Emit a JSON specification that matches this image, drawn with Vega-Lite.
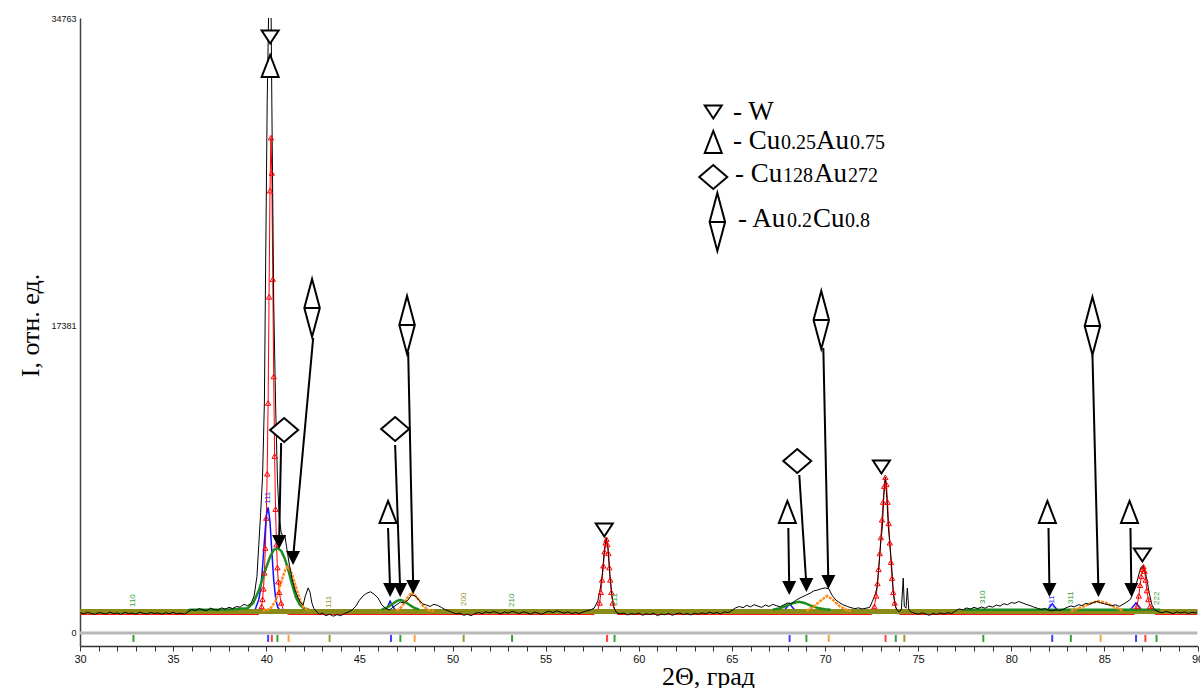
{
  "$schema": "https://vega.github.io/schema/vega-lite/v6.json",
  "width": 1117.5,
  "height": 628,
  "autosize": {"type": "none"},
  "padding": {"left": 80, "top": 18, "right": 2.5, "bottom": 42},
  "background": "white",
  "config": {"view": {"stroke": null}, "font": "Liberation Sans"},
  "datasets": {
    "obs": [
      {"x":30.0,"y":1150},{"x":30.2,"y":1080},{"x":30.4,"y":1170},{"x":30.6,"y":1110},{"x":30.8,"y":1050},{"x":31.0,"y":1160},{"x":31.2,"y":1120},{"x":31.4,"y":1060},{"x":31.6,"y":1180},{"x":31.8,"y":1090},
      {"x":32.0,"y":1140},{"x":32.2,"y":1050},{"x":32.4,"y":1170},{"x":32.6,"y":1100},{"x":32.8,"y":1130},{"x":33.0,"y":1060},{"x":33.2,"y":1180},{"x":33.4,"y":1110},{"x":33.6,"y":1070},{"x":33.8,"y":1160},
      {"x":34.0,"y":1100},{"x":34.2,"y":1140},{"x":34.4,"y":1060},{"x":34.6,"y":1150},{"x":34.8,"y":1090},{"x":35.0,"y":1170},{"x":35.2,"y":1080},{"x":35.4,"y":1120},{"x":35.6,"y":1060},{"x":35.8,"y":1200},
      {"x":36.0,"y":1330},{"x":36.2,"y":1270},{"x":36.4,"y":1380},{"x":36.6,"y":1310},{"x":36.8,"y":1260},{"x":37.0,"y":1400},{"x":37.2,"y":1330},{"x":37.4,"y":1290},{"x":37.6,"y":1420},{"x":37.8,"y":1350},
      {"x":38.0,"y":1450},{"x":38.2,"y":1380},{"x":38.4,"y":1500},{"x":38.6,"y":1460},{"x":38.8,"y":1620},{"x":39.0,"y":1540},{"x":39.2,"y":1700},{"x":39.35,"y":2100},{"x":39.5,"y":3200},{"x":39.6,"y":5000},
      {"x":39.7,"y":6800},{"x":39.8,"y":8800},{"x":39.9,"y":13000},{"x":39.95,"y":18800},{"x":40.05,"y":30000},{"x":40.15,"y":36500},{"x":40.25,"y":36500},{"x":40.3,"y":30000},{"x":40.4,"y":18800},{"x":40.5,"y":13000},
      {"x":40.6,"y":8700},{"x":40.7,"y":6500},{"x":40.8,"y":5700},{"x":40.9,"y":5450},{"x":41.0,"y":5500},{"x":41.1,"y":4800},{"x":41.25,"y":3800},{"x":41.4,"y":3000},{"x":41.55,"y":2430},{"x":41.7,"y":2000},
      {"x":41.85,"y":1700},{"x":41.98,"y":1580},{"x":42.1,"y":2100},{"x":42.25,"y":2550},{"x":42.35,"y":2300},{"x":42.45,"y":1700},{"x":42.55,"y":1400},{"x":42.7,"y":1200},{"x":42.85,"y":1050},{"x":43.0,"y":1120},
      {"x":43.2,"y":980},{"x":43.4,"y":1060},{"x":43.6,"y":950},{"x":43.8,"y":1040},{"x":44.0,"y":980},{"x":44.2,"y":1100},{"x":44.4,"y":1180},{"x":44.6,"y":1300},{"x":44.8,"y":1500},{"x":45.0,"y":1850},
      {"x":45.2,"y":2100},{"x":45.4,"y":2250},{"x":45.6,"y":2330},{"x":45.8,"y":2180},{"x":46.0,"y":1980},{"x":46.2,"y":1600},{"x":46.4,"y":1400},{"x":46.6,"y":1300},{"x":46.8,"y":1450},{"x":47.0,"y":1600},
      {"x":47.2,"y":1750},{"x":47.4,"y":1700},{"x":47.6,"y":1850},{"x":47.8,"y":2150},{"x":48.0,"y":2100},{"x":48.2,"y":1850},{"x":48.4,"y":1650},{"x":48.6,"y":1580},{"x":48.8,"y":1500},{"x":49.0,"y":1620},
      {"x":49.2,"y":1560},{"x":49.4,"y":1450},{"x":49.6,"y":1320},{"x":49.8,"y":1250},{"x":50.0,"y":1150},{"x":50.2,"y":1080},{"x":50.4,"y":1120},{"x":50.6,"y":1000},{"x":50.8,"y":1060},{"x":51.0,"y":980},
      {"x":51.2,"y":1100},{"x":51.4,"y":1160},{"x":51.6,"y":1090},{"x":51.8,"y":1200},{"x":52.0,"y":1130},{"x":52.2,"y":1210},{"x":52.4,"y":1150},{"x":52.6,"y":1080},{"x":52.8,"y":1190},{"x":53.0,"y":1120},
      {"x":53.2,"y":1230},{"x":53.4,"y":1160},{"x":53.6,"y":1100},{"x":53.8,"y":1200},{"x":54.0,"y":1140},{"x":54.2,"y":1060},{"x":54.4,"y":1180},{"x":54.6,"y":1120},{"x":54.8,"y":1050},{"x":55.0,"y":1170},
      {"x":55.2,"y":1230},{"x":55.4,"y":1150},{"x":55.6,"y":1260},{"x":55.8,"y":1180},{"x":56.0,"y":1120},{"x":56.2,"y":1200},{"x":56.4,"y":1090},{"x":56.6,"y":1160},{"x":56.8,"y":1100},{"x":57.0,"y":1180},
      {"x":57.2,"y":1250},{"x":57.4,"y":1300},{"x":57.6,"y":1400},{"x":57.8,"y":1800},{"x":57.95,"y":2600},{"x":58.05,"y":3400},{"x":58.15,"y":4600},{"x":58.25,"y":5400},{"x":58.35,"y":4800},{"x":58.45,"y":3300},
      {"x":58.55,"y":2200},{"x":58.65,"y":1500},{"x":58.8,"y":1150},{"x":59.0,"y":1080},{"x":59.2,"y":1120},{"x":59.4,"y":1020},{"x":59.6,"y":1100},{"x":59.8,"y":1050},{"x":60.0,"y":1130},{"x":60.2,"y":1000},
      {"x":60.4,"y":1090},{"x":60.6,"y":1040},{"x":60.8,"y":1120},{"x":61.0,"y":980},{"x":61.2,"y":1070},{"x":61.4,"y":1030},{"x":61.6,"y":1110},{"x":61.8,"y":1000},{"x":62.0,"y":1080},{"x":62.2,"y":1130},
      {"x":62.4,"y":1040},{"x":62.6,"y":1100},{"x":62.8,"y":1020},{"x":63.0,"y":1120},{"x":63.2,"y":1060},{"x":63.4,"y":1140},{"x":63.6,"y":1070},{"x":63.8,"y":1180},{"x":64.0,"y":1100},{"x":64.2,"y":1160},
      {"x":64.4,"y":1080},{"x":64.6,"y":1200},{"x":64.8,"y":1150},{"x":65.0,"y":1270},{"x":65.2,"y":1420},{"x":65.4,"y":1500},{"x":65.6,"y":1430},{"x":65.8,"y":1560},{"x":66.0,"y":1480},{"x":66.2,"y":1600},
      {"x":66.4,"y":1520},{"x":66.6,"y":1450},{"x":66.8,"y":1580},{"x":67.0,"y":1500},{"x":67.2,"y":1620},{"x":67.4,"y":1540},{"x":67.6,"y":1480},{"x":67.8,"y":1600},{"x":68.0,"y":1700},{"x":68.2,"y":1650},
      {"x":68.4,"y":1820},{"x":68.6,"y":1950},{"x":68.8,"y":2050},{"x":69.0,"y":2150},{"x":69.2,"y":2250},{"x":69.4,"y":2380},{"x":69.6,"y":2430},{"x":69.8,"y":2500},{"x":70.0,"y":2550},{"x":70.2,"y":2500},
      {"x":70.4,"y":2100},{"x":70.6,"y":1850},{"x":70.8,"y":1700},{"x":71.0,"y":1580},{"x":71.2,"y":1500},{"x":71.4,"y":1430},{"x":71.6,"y":1380},{"x":71.8,"y":1420},{"x":72.0,"y":1360},{"x":72.2,"y":1400},
      {"x":72.4,"y":1450},{"x":72.55,"y":1800},{"x":72.7,"y":2200},{"x":72.8,"y":2600},{"x":72.92,"y":4100},{"x":73.0,"y":5200},{"x":73.08,"y":6000},{"x":73.16,"y":7800},{"x":73.24,"y":8800},{"x":73.32,"y":7600},
      {"x":73.4,"y":6000},{"x":73.5,"y":4800},{"x":73.56,"y":4100},{"x":73.67,"y":2300},{"x":73.78,"y":1500},{"x":73.9,"y":1250},{"x":74.0,"y":1200},{"x":74.1,"y":1350},{"x":74.2,"y":3100},{"x":74.26,"y":1500},
      {"x":74.35,"y":1400},{"x":74.42,"y":2540},{"x":74.5,"y":1300},{"x":74.6,"y":1200},{"x":74.8,"y":1120},{"x":75.0,"y":1060},{"x":75.2,"y":1140},{"x":75.4,"y":1080},{"x":75.6,"y":1000},{"x":75.8,"y":1100},
      {"x":76.0,"y":1050},{"x":76.2,"y":1130},{"x":76.4,"y":1070},{"x":76.6,"y":1150},{"x":76.8,"y":1100},{"x":77.0,"y":1250},{"x":77.2,"y":1360},{"x":77.4,"y":1300},{"x":77.6,"y":1420},{"x":77.8,"y":1350},
      {"x":78.0,"y":1450},{"x":78.2,"y":1380},{"x":78.4,"y":1470},{"x":78.6,"y":1400},{"x":78.8,"y":1520},{"x":79.0,"y":1460},{"x":79.2,"y":1580},{"x":79.4,"y":1520},{"x":79.6,"y":1650},{"x":79.8,"y":1600},
      {"x":80.0,"y":1720},{"x":80.2,"y":1680},{"x":80.4,"y":1780},{"x":80.6,"y":1700},{"x":80.8,"y":1620},{"x":81.0,"y":1550},{"x":81.2,"y":1470},{"x":81.4,"y":1400},{"x":81.6,"y":1330},{"x":81.8,"y":1380},
      {"x":82.0,"y":1300},{"x":82.2,"y":1250},{"x":82.4,"y":1320},{"x":82.6,"y":1270},{"x":82.8,"y":1350},{"x":83.0,"y":1450},{"x":83.2,"y":1530},{"x":83.4,"y":1480},{"x":83.6,"y":1600},{"x":83.8,"y":1550},
      {"x":84.0,"y":1680},{"x":84.2,"y":1620},{"x":84.4,"y":1720},{"x":84.6,"y":1780},{"x":84.8,"y":1700},{"x":85.0,"y":1650},{"x":85.2,"y":1600},{"x":85.4,"y":1540},{"x":85.6,"y":1600},{"x":85.8,"y":1500},
      {"x":86.0,"y":1620},{"x":86.2,"y":1750},{"x":86.4,"y":1900},{"x":86.6,"y":2400},{"x":86.8,"y":3100},{"x":86.95,"y":3700},{"x":87.1,"y":3800},{"x":87.25,"y":3200},{"x":87.4,"y":2300},{"x":87.55,"y":1600},
      {"x":87.7,"y":1300},{"x":87.9,"y":1200},{"x":88.1,"y":1140},{"x":88.3,"y":1220},{"x":88.5,"y":1160},{"x":88.7,"y":1100},{"x":88.9,"y":1200},{"x":89.1,"y":1130},{"x":89.3,"y":1190},{"x":89.5,"y":1100},
      {"x":89.7,"y":1170},{"x":89.9,"y":1130},{"x":90.0,"y":1180}
    ],
    "wcalc": [
      {"x":30,"y":1050},{"x":39.6,"y":1050},{"x":39.7,"y":1250},{"x":39.75,"y":1500},{"x":39.8,"y":1900},{"x":39.85,"y":2500},{"x":39.9,"y":3400},{"x":39.95,"y":4800},{"x":40.0,"y":6500},{"x":40.05,"y":9000},
      {"x":40.1,"y":13000},{"x":40.15,"y":19000},{"x":40.2,"y":25000},{"x":40.25,"y":28000},{"x":40.3,"y":26000},{"x":40.35,"y":20000},{"x":40.4,"y":14500},{"x":40.45,"y":10000},{"x":40.5,"y":7000},{"x":40.55,"y":5000},
      {"x":40.6,"y":3700},{"x":40.65,"y":2900},{"x":40.7,"y":2300},{"x":40.8,"y":1700},{"x":40.9,"y":1350},{"x":41.0,"y":1150},{"x":41.2,"y":1050},{"x":57.6,"y":1050},{"x":57.8,"y":1300},{"x":57.9,"y":1700},
      {"x":57.97,"y":2300},{"x":58.03,"y":3000},{"x":58.1,"y":3800},{"x":58.16,"y":4600},{"x":58.22,"y":5100},{"x":58.27,"y":5300},{"x":58.32,"y":5000},{"x":58.37,"y":4500},{"x":58.42,"y":3700},{"x":58.47,"y":3000},
      {"x":58.53,"y":2300},{"x":58.6,"y":1700},{"x":58.7,"y":1300},{"x":58.85,"y":1050},{"x":72.5,"y":1050},{"x":72.65,"y":1500},{"x":72.75,"y":2100},{"x":72.82,"y":2800},{"x":72.88,"y":3600},{"x":72.94,"y":4500},
      {"x":73.0,"y":5400},{"x":73.06,"y":6400},{"x":73.12,"y":7400},{"x":73.18,"y":8300},{"x":73.24,"y":8800},{"x":73.3,"y":8400},{"x":73.36,"y":7400},{"x":73.42,"y":6200},{"x":73.48,"y":5100},{"x":73.54,"y":4000},
      {"x":73.6,"y":3100},{"x":73.66,"y":2300},{"x":73.74,"y":1700},{"x":73.85,"y":1250},{"x":74.0,"y":1050},{"x":86.6,"y":1050},{"x":86.75,"y":1500},{"x":86.85,"y":2100},{"x":86.92,"y":2700},{"x":86.98,"y":3200},
      {"x":87.04,"y":3600},{"x":87.1,"y":3750},{"x":87.16,"y":3500},{"x":87.22,"y":3000},{"x":87.28,"y":2400},{"x":87.36,"y":1900},{"x":87.45,"y":1500},{"x":87.6,"y":1150},{"x":87.75,"y":1050},{"x":90,"y":1050}
    ],
    "blue": [
      {"s":"a","x":39.2,"y":1150},{"s":"a","x":39.4,"y":1300},{"s":"a","x":39.6,"y":1900},{"s":"a","x":39.7,"y":2500},{"s":"a","x":39.8,"y":3700},{"s":"a","x":39.9,"y":5200},{"s":"a","x":40.0,"y":6600},{"s":"a","x":40.1,"y":7100},{"s":"a","x":40.2,"y":6300},{"s":"a","x":40.3,"y":4600},{"s":"a","x":40.4,"y":3000},{"s":"a","x":40.5,"y":2000},{"s":"a","x":40.6,"y":1500},{"s":"a","x":40.75,"y":1250},{"s":"a","x":40.9,"y":1150},
      {"s":"b","x":46.3,"y":1150},{"s":"b","x":46.5,"y":1450},{"s":"b","x":46.65,"y":1800},{"s":"b","x":46.8,"y":1500},{"s":"b","x":47.0,"y":1150},
      {"s":"c","x":67.7,"y":1150},{"s":"c","x":67.95,"y":1450},{"s":"c","x":68.1,"y":1650},{"s":"c","x":68.25,"y":1450},{"s":"c","x":68.5,"y":1150},
      {"s":"d","x":81.9,"y":1150},{"s":"d","x":82.05,"y":1450},{"s":"d","x":82.2,"y":1650},{"s":"d","x":82.35,"y":1450},{"s":"d","x":82.6,"y":1150},
      {"s":"e","x":86.3,"y":1150},{"s":"e","x":86.5,"y":1450},{"s":"e","x":86.7,"y":1700},{"s":"e","x":86.9,"y":1450},{"s":"e","x":87.1,"y":1150}
    ],
    "green": [
      {"s":"a","x":35.8,"y":1300},{"s":"a","x":36.0,"y":1310},{"s":"a","x":38.0,"y":1330},{"s":"a","x":39.0,"y":1400},{"s":"a","x":39.3,"y":1700},{"s":"a","x":39.6,"y":2400},{"s":"a","x":39.9,"y":3400},{"s":"a","x":40.2,"y":4300},{"s":"a","x":40.4,"y":4700},{"s":"a","x":40.6,"y":4800},
      {"s":"a","x":40.8,"y":4650},{"s":"a","x":41.0,"y":4200},{"s":"a","x":41.2,"y":3500},{"s":"a","x":41.4,"y":2700},{"s":"a","x":41.6,"y":2000},{"s":"a","x":41.8,"y":1600},{"s":"a","x":42.0,"y":1400},{"s":"a","x":42.3,"y":1320},
      {"s":"b","x":46.2,"y":1320},{"s":"b","x":46.5,"y":1450},{"s":"b","x":46.8,"y":1650},{"s":"b","x":47.0,"y":1800},{"s":"b","x":47.2,"y":1870},{"s":"b","x":47.4,"y":1800},{"s":"b","x":47.6,"y":1650},{"s":"b","x":47.9,"y":1450},{"s":"b","x":48.2,"y":1320},
      {"s":"c","x":67.2,"y":1320},{"s":"c","x":67.6,"y":1400},{"s":"c","x":68.0,"y":1580},{"s":"c","x":68.3,"y":1700},{"s":"c","x":68.6,"y":1760},{"s":"c","x":68.9,"y":1700},{"s":"c","x":69.2,"y":1560},{"s":"c","x":69.6,"y":1420},{"s":"c","x":70.0,"y":1340},{"s":"c","x":70.3,"y":1320},
      {"s":"d","x":77.5,"y":1320},{"s":"d","x":88.0,"y":1320}
    ],
    "orange": [
      {"s":"a","x":39.8,"y":1250},{"s":"a","x":40.2,"y":1350},{"s":"a","x":40.5,"y":1800},{"s":"a","x":40.7,"y":2500},{"s":"a","x":40.9,"y":3200},{"s":"a","x":41.05,"y":3650},{"s":"a","x":41.17,"y":3750},{"s":"a","x":41.3,"y":3550},{"s":"a","x":41.45,"y":3100},{"s":"a","x":41.6,"y":2600},{"s":"a","x":41.8,"y":1900},{"s":"a","x":42.0,"y":1450},{"s":"a","x":42.3,"y":1250},
      {"s":"b","x":47.0,"y":1250},{"s":"b","x":47.3,"y":1500},{"s":"b","x":47.55,"y":1950},{"s":"b","x":47.83,"y":2300},{"s":"b","x":48.1,"y":2000},{"s":"b","x":48.4,"y":1550},{"s":"b","x":48.7,"y":1300},{"s":"b","x":49.0,"y":1250},
      {"s":"c","x":69.0,"y":1250},{"s":"c","x":69.4,"y":1500},{"s":"c","x":69.8,"y":1850},{"s":"c","x":70.1,"y":2100},{"s":"c","x":70.4,"y":1900},{"s":"c","x":70.8,"y":1500},{"s":"c","x":71.2,"y":1280},{"s":"c","x":71.4,"y":1250},
      {"s":"d","x":83.2,"y":1250},{"s":"d","x":83.8,"y":1450},{"s":"d","x":84.3,"y":1700},{"s":"d","x":84.7,"y":1800},{"s":"d","x":85.1,"y":1700},{"s":"d","x":85.6,"y":1450},{"s":"d","x":86.0,"y":1250}
    ],
    "band": [{"x":30,"y":1215},{"x":90,"y":1215}],
    "zero": [{"x":30,"y":0,"x2":90}],
    "sticks": [
      {"x":32.87,"y":-110,"y2":-505,"p":"Cu128Au272"},{"x":40.6,"y":-110,"y2":-505,"p":"Cu128Au272"},{"x":47.2,"y":-110,"y2":-505,"p":"Cu128Au272"},{"x":53.2,"y":-110,"y2":-505,"p":"Cu128Au272"},{"x":58.7,"y":-110,"y2":-505,"p":"Cu128Au272"},
      {"x":69.0,"y":-110,"y2":-505,"p":"Cu128Au272"},{"x":73.8,"y":-110,"y2":-505,"p":"Cu128Au272"},{"x":78.5,"y":-110,"y2":-505,"p":"Cu128Au272"},{"x":83.2,"y":-110,"y2":-505,"p":"Cu128Au272"},{"x":87.8,"y":-110,"y2":-505,"p":"Cu128Au272"},
      {"x":40.1,"y":-110,"y2":-505,"p":"Cu0.25Au0.75"},{"x":46.7,"y":-110,"y2":-505,"p":"Cu0.25Au0.75"},{"x":68.1,"y":-110,"y2":-505,"p":"Cu0.25Au0.75"},{"x":82.2,"y":-110,"y2":-505,"p":"Cu0.25Au0.75"},{"x":86.7,"y":-110,"y2":-505,"p":"Cu0.25Au0.75"},
      {"x":40.3,"y":-110,"y2":-505,"p":"W"},{"x":58.3,"y":-110,"y2":-505,"p":"W"},{"x":73.25,"y":-110,"y2":-505,"p":"W"},{"x":87.2,"y":-110,"y2":-505,"p":"W"},
      {"x":41.2,"y":-110,"y2":-505,"p":"Au0.2Cu0.8"},{"x":47.97,"y":-110,"y2":-505,"p":"Au0.2Cu0.8"},{"x":70.2,"y":-110,"y2":-505,"p":"Au0.2Cu0.8"},{"x":84.8,"y":-110,"y2":-505,"p":"Au0.2Cu0.8"},
      {"x":43.4,"y":-110,"y2":-505,"p":"other"},{"x":50.6,"y":-110,"y2":-505,"p":"other"},{"x":74.26,"y":-110,"y2":-505,"p":"other"}
    ],
    "hkl": [
      {"x":32.87,"y":1473,"t":"110","p":"Cu128Au272"},
      {"x":40.1,"y":7300,"t":"111","p":"Cu0.25Au0.75"},
      {"x":43.35,"y":1416,"t":"111","p":"other"},
      {"x":50.6,"y":1530,"t":"200","p":"other"},
      {"x":53.2,"y":1473,"t":"210","p":"Cu128Au272"},
      {"x":58.75,"y":1530,"t":"211","p":"Cu128Au272"},
      {"x":78.5,"y":1643,"t":"310","p":"Cu128Au272"},
      {"x":82.2,"y":1416,"t":"311","p":"Cu0.25Au0.75"},
      {"x":83.2,"y":1643,"t":"311","p":"Cu128Au272"},
      {"x":87.8,"y":1586,"t":"222","p":"Cu128Au272"}
    ],
    "arrows": [
      {"x":40.80,"y":10742,"x2":40.69,"y2":5147},
      {"x":42.52,"y":16677,"x2":41.44,"y2":4242},
      {"x":46.54,"y":5938,"x2":46.65,"y2":2434},
      {"x":46.92,"y":10629,"x2":47.19,"y2":2434},
      {"x":47.62,"y":15885,"x2":47.89,"y2":2603},
      {"x":68.03,"y":5938,"x2":68.08,"y2":2547},
      {"x":68.62,"y":8933,"x2":69.00,"y2":2716},
      {"x":69.91,"y":16111,"x2":70.18,"y2":2886},
      {"x":82.00,"y":5938,"x2":82.05,"y2":2434},
      {"x":84.36,"y":15716,"x2":84.68,"y2":2434},
      {"x":86.40,"y":5938,"x2":86.45,"y2":2434}
    ],
    "sym": [
      {"s":"down","x":40.21,"y":33689},{"s":"down","x":58.15,"y":5825},{"s":"down","x":73.03,"y":9386},{"s":"down","x":87.04,"y":4412},{"s":"down","x":64.00,"y":29450},
      {"s":"up","x":40.21,"y":32050},{"s":"up","x":46.54,"y":6842},{"s":"up","x":67.98,"y":6842},{"s":"up","x":81.94,"y":6842},{"s":"up","x":86.35,"y":6842},{"s":"up","x":64.00,"y":27755},
      {"s":"dia","x":40.96,"y":11477},{"s":"dia","x":46.92,"y":11533},{"s":"dia","x":68.51,"y":9725},{"s":"dia","x":64.00,"y":25776},
      {"s":"dbl","x":42.46,"y":18372},{"s":"dbl","x":47.56,"y":17411},{"s":"dbl","x":69.80,"y":17694},{"s":"dbl","x":84.36,"y":17355},{"s":"dbl","x":64.22,"y":23233}
    ],
    "legendMain": [
      {"x":65.06,"y":28998,"t":"- W"},
      {"x":65.06,"y":27359,"t":"- Cu"},{"x":69.52,"y":27359,"t":"Au"},
      {"x":65.17,"y":25494,"t":"- Cu"},{"x":69.41,"y":25494,"t":"Au"},
      {"x":65.33,"y":22950,"t":"- Au"},{"x":69.36,"y":22950,"t":"Cu"}
    ],
    "legendSub": [
      {"x":67.64,"y":27359,"t":"0.25"},{"x":71.34,"y":27359,"t":"0.75"},
      {"x":67.75,"y":25494,"t":"128"},{"x":71.23,"y":25494,"t":"272"},
      {"x":67.96,"y":22950,"t":"0.2"},{"x":71.07,"y":22950,"t":"0.8"}
    ]
  },
  "encoding": {
    "x": {
      "field": "x", "type": "quantitative",
      "scale": {"domain": [30, 90], "nice": false, "zero": false},
      "axis": {
        "values": [30,31,32,33,34,35,36,37,38,39,40,41,42,43,44,45,46,47,48,49,50,51,52,53,54,55,56,57,58,59,60,61,62,63,64,65,66,67,68,69,70,71,72,73,74,75,76,77,78,79,80,81,82,83,84,85,86,87,88,89,90],
        "format": "d",
        "labelExpr": "datum.value % 5 === 0 ? datum.label : ''",
        "grid": false, "tickSize": 5, "tickColor": "#333", "domainColor": "#333", "domainWidth": 1.5,
        "labelFont": "Liberation Sans", "labelFontSize": 11, "labelColor": "#111", "labelPadding": 2,
        "labelFlush": false, "labelOverlap": false,
        "title": "2Θ, град", "titleFont": "Liberation Serif", "titleFontSize": 26, "titleFontWeight": "normal", "titleColor": "#000",
        "titleX": 628, "titleY": 30, "titleBaseline": "middle", "titleAlign": "center"
      }
    },
    "y": {
      "field": "y", "type": "quantitative",
      "scale": {"domain": [-735, 34763], "nice": false, "zero": false},
      "axis": {
        "values": [0, 17381, 34763], "format": "d",
        "grid": false, "ticks": false, "domainColor": "#444", "domainWidth": 1.5,
        "labelFont": "Liberation Sans", "labelFontSize": 9, "labelColor": "#111", "labelPadding": 4,
        "title": "I, отн. ед.", "titleFont": "Liberation Serif", "titleFontSize": 26, "titleFontWeight": "normal", "titleColor": "#000",
        "titleX": -50, "titleY": 307, "titleBaseline": "middle", "titleAlign": "center", "titleAngle": 270
      }
    }
  },
  "layer": [
    {"data": {"name": "zero"}, "mark": {"type": "rule", "color": "#b8b8b8", "strokeWidth": 3}, "encoding": {"x2": {"field": "x2"}}},
    {"data": {"name": "sticks"}, "mark": {"type": "rule", "strokeWidth": 2}, "encoding": {"y2": {"field": "y2"}, "color": {"field": "p", "type": "nominal", "legend": null, "scale": {"domain": ["W","Cu0.25Au0.75","Cu128Au272","Au0.2Cu0.8","other"], "range": ["#ff4040","#4040ff","#35a035","#ffa040","#9a9a30"]}}}},
    {"data": {"name": "wcalc"}, "mark": {"type": "line", "color": "#ff0000", "strokeWidth": 1, "clip": true}, "encoding": {}},
    {"data": {"name": "blue"}, "mark": {"type": "line", "color": "#1010ff", "strokeWidth": 1.5}, "encoding": {"detail": {"field": "s"}}},
    {"data": {"name": "band"}, "mark": {"type": "line", "color": "#8b8b17", "strokeWidth": 5}, "encoding": {}},
    {"data": {"name": "green"}, "mark": {"type": "line", "color": "#1e8c1e", "strokeWidth": 2.5}, "encoding": {"detail": {"field": "s"}}},
    {"data": {"name": "orange"}, "mark": {"type": "line", "color": "#ff8c1a", "strokeWidth": 2.5, "strokeDash": [3, 1]}, "encoding": {"detail": {"field": "s"}}},
    {"data": {"name": "obs"}, "mark": {"type": "line", "color": "#000000", "strokeWidth": 1, "clip": true}, "encoding": {}},
    {"data": {"name": "wcalc"}, "transform": [{"filter": "datum.y > 1400"}], "mark": {"type": "point", "shape": "triangle-up", "size": 28, "filled": false, "color": "#ff0000", "strokeWidth": 1, "opacity": 1, "clip": true}, "encoding": {}},
    {"data": {"values": [{}]}, "mark": {"type": "rule", "color": "#444444", "strokeWidth": 1.5}, "encoding": {"x": {"datum": 30}, "x2": {"datum": 90}, "y": {"datum": 34763}}},
    {"data": {"name": "hkl"}, "mark": {"type": "text", "angle": 270, "align": "left", "baseline": "middle", "fontSize": 8, "font": "Liberation Sans"}, "encoding": {"text": {"field": "t"}, "color": {"field": "p", "type": "nominal", "legend": null}}},
    {"data": {"name": "arrows"}, "mark": {"type": "rule", "color": "#000000", "strokeWidth": 2}, "encoding": {"x2": {"field": "x2"}, "y2": {"field": "y2"}}},
    {"data": {"name": "arrows"}, "mark": {"type": "point", "shape": "M-1,-1L1,-1L0,1Z", "size": 196, "filled": true, "color": "#000000", "opacity": 1}, "encoding": {"x": {"field": "x2", "type": "quantitative"}, "y": {"field": "y2", "type": "quantitative"}}},
    {"data": {"name": "sym"}, "transform": [{"filter": "datum.s === 'down'"}], "mark": {"type": "point", "shape": "M-1,-0.765L1,-0.765L0,0.765Z", "size": 289, "filled": true, "fill": "white", "stroke": "black", "strokeWidth": 2, "opacity": 1}, "encoding": {}},
    {"data": {"name": "sym"}, "transform": [{"filter": "datum.s === 'up'"}], "mark": {"type": "point", "shape": "M0,-1L0.773,1L-0.773,1Z", "size": 484, "filled": true, "fill": "white", "stroke": "black", "strokeWidth": 2, "opacity": 1}, "encoding": {}},
    {"data": {"name": "sym"}, "transform": [{"filter": "datum.s === 'dia'"}], "mark": {"type": "point", "shape": "M-1,0L0,-0.857L1,0L0,0.857Z", "size": 784, "filled": true, "fill": "white", "stroke": "black", "strokeWidth": 2, "opacity": 1}, "encoding": {}},
    {"data": {"name": "sym"}, "transform": [{"filter": "datum.s === 'dbl'"}], "mark": {"type": "point", "shape": "M0,-1L0.267,0L0,1L-0.267,0ZM-0.267,0L0.267,0", "size": 3364, "filled": true, "fill": "white", "stroke": "black", "strokeWidth": 2, "opacity": 1}, "encoding": {}},
    {"data": {"name": "legendMain"}, "mark": {"type": "text", "align": "left", "baseline": "alphabetic", "font": "Liberation Serif", "fontSize": 27, "color": "#000"}, "encoding": {"text": {"field": "t"}}},
    {"data": {"name": "legendSub"}, "mark": {"type": "text", "align": "left", "baseline": "alphabetic", "font": "Liberation Serif", "fontSize": 20, "color": "#000"}, "encoding": {"text": {"field": "t"}}}
  ]
}
